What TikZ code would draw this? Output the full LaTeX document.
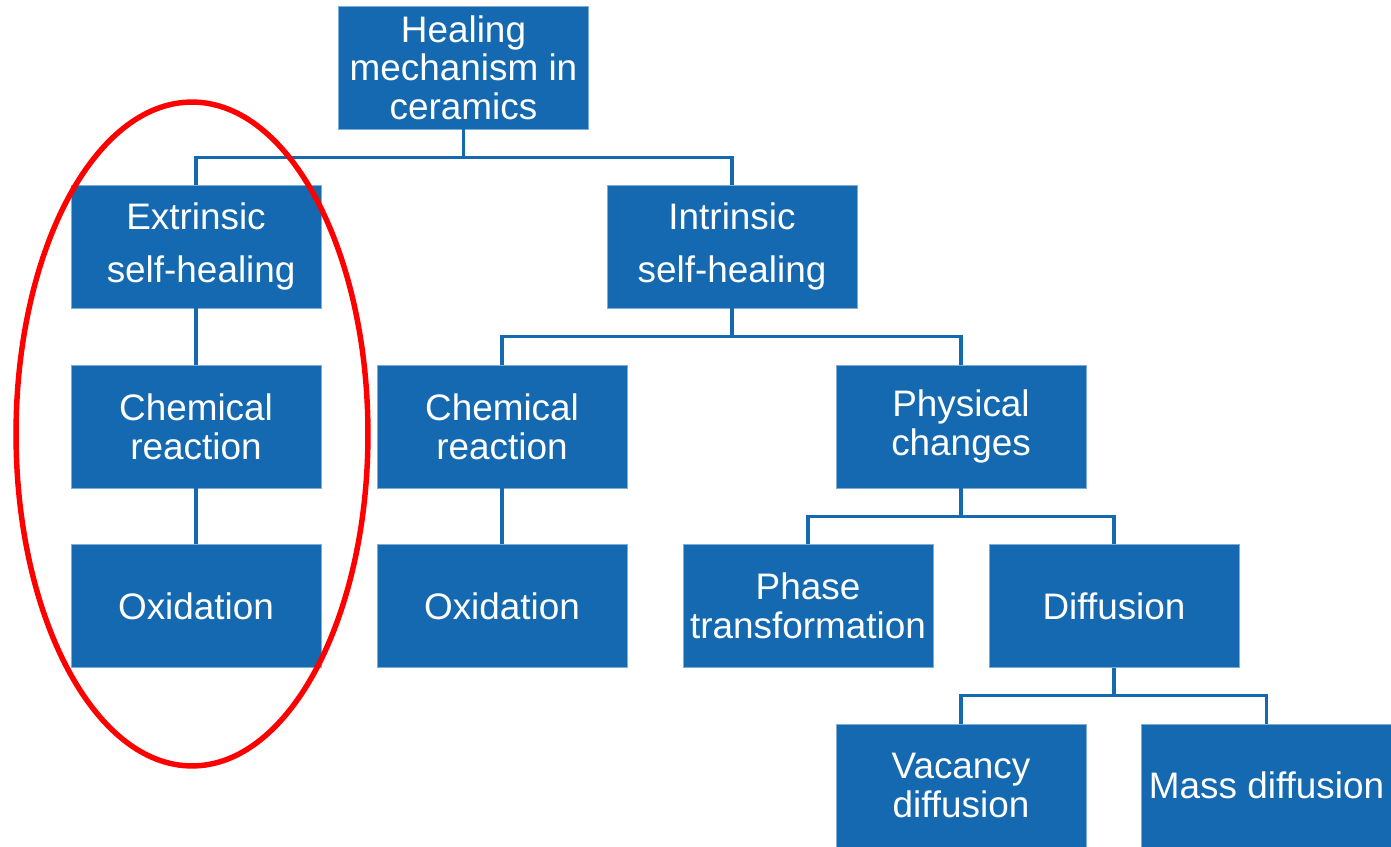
\documentclass[tikz,border=0pt]{standalone}
\usepackage{fontspec}
\setmainfont{Liberation Sans}
\usetikzlibrary{positioning,calc}
\definecolor{boxblue}{RGB}{21,105,176}

\begin{document}
\begin{tikzpicture}[x=0.02cm, y=-0.02cm,
  blk/.style={fill=boxblue, draw=boxblue!55!white, line width=0.4pt, text=white,
    minimum width=5cm, minimum height=2.46cm, inner sep=0pt, align=center,
    font=\fontsize{21}{22}\selectfont},
  link/.style={draw=boxblue, line width=1.8pt},
  ring/.style={draw=red, line width=3.1pt}]
\useasboundingbox (0,0) rectangle (1391,847);
\node[blk] (root) at (463.5,67.5) {Healing\\mechanism in\\ceramics};
\node[blk] (ext) at (196,246.5) {Extrinsic\\[8pt]\ self-healing};
\node[blk] (intr) at (732,246.5) {Intrinsic\\[8pt]self-healing};
\node[blk] (chemL) at (196,426.5) {Chemical\\reaction};
\node[blk] (chemM) at (502,426.5) {Chemical\\reaction};
\node[blk] (phys) at (961,426.5) {Physical\\changes};
\node[blk] (oxL) at (196,606) {Oxidation};
\node[blk] (oxM) at (502,606) {Oxidation};
\node[blk] (phase) at (808,606) {Phase\\transformation};
\node[blk] (diff) at (1114,606) {Diffusion};
\node[blk] (vac) at (961,785.5) {Vacancy\\diffusion};
\node[blk] (mass) at (1266.5,785.5) {Mass diffusion};
% tree links
\draw[link] (root.south) -- ++(0,-0.56cm) -| (ext.north);
\draw[link] (root.south) -- ++(0,-0.56cm) -| (intr.north);
\draw[link] (ext.south) -- (chemL.north);
\draw[link] (chemL.south) -- (oxL.north);
\draw[link] (intr.south) -- ++(0,-0.56cm) -| (chemM.north);
\draw[link] (intr.south) -- ++(0,-0.56cm) -| (phys.north);
\draw[link] (chemM.south) -- (oxM.north);
\draw[link] (phys.south) -- ++(0,-0.56cm) -| (phase.north);
\draw[link] (phys.south) -- ++(0,-0.56cm) -| (diff.north);
\draw[link] (diff.south) -- ++(0,-0.56cm) -| (vac.north);
\draw[link] (diff.south) -- ++(0,-0.56cm) -| (mass.north);
% highlight
\draw[ring] (192,434) ellipse [x radius=3.52cm, y radius=6.64cm];
\end{tikzpicture}
\end{document}
